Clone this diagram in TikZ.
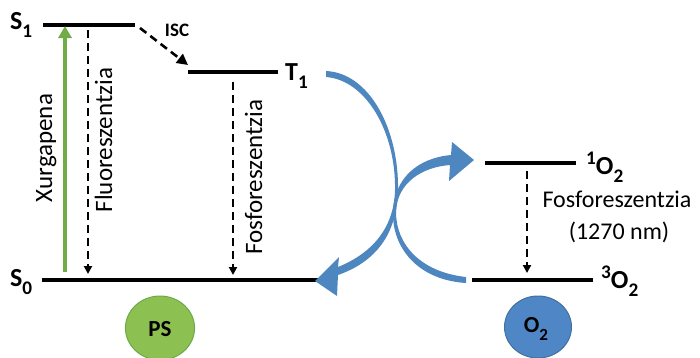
\documentclass[tikz,border=0pt]{standalone}
\usepackage{fontspec}
\usepackage{graphicx}
\setmainfont{Carlito}
\usetikzlibrary{arrows.meta}
\definecolor{arrblue}{HTML}{4E86C0}
\definecolor{oxfill}{HTML}{4F86C6}
\definecolor{oxdraw}{HTML}{41719C}
\definecolor{psfill}{HTML}{8CC152}
\definecolor{psdraw}{HTML}{6FA84A}
\definecolor{excgreen}{HTML}{70AD47}
\newcommand\lowsub[1]{\raisebox{-0.32em}{\scalebox{0.74}{#1}}}
\newcommand\highsup[1]{\raisebox{0.38em}{\scalebox{0.74}{#1}}}
\tikzset{
  level/.style={line width=4pt},
  lvllab/.style={font=\fontsize{26}{28}\selectfont\bfseries, inner sep=0pt, anchor=base west},
  dashedarrow/.style={line width=2.4pt, dash pattern=on 8pt off 5pt, -{Triangle[width=8pt,length=8pt]}},
  rotlab/.style={font=\fontsize{25}{28}\selectfont, rotate=90, inner sep=0pt, anchor=base},
  sidelab/.style={font=\fontsize{24}{26}\selectfont, inner sep=0pt, anchor=base},
  circlelab/.style={font=\fontsize{23}{25}\selectfont\bfseries, inner sep=0pt},
}
\begin{document}
\begin{tikzpicture}[x=1pt,y=-1pt]
\useasboundingbox (0,0) rectangle (700,357);
% level coordinates
\coordinate (S1a) at (43,25);  \coordinate (S1b) at (135,25);
\coordinate (T1a) at (188,72); \coordinate (T1b) at (278,72);
\coordinate (S0a) at (42,280); \coordinate (S0b) at (322,280);
\coordinate (O1a) at (485,163); \coordinate (O1b) at (576,163);
\coordinate (O3a) at (472,280); \coordinate (O3b) at (593,280);
% level lines
\draw[level] (S1a) -- (S1b);
\draw[level] (T1a) -- (T1b);
\draw[level] (S0a) -- (S0b);
\draw[level] (O1a) -- (O1b);
\draw[level] (O3a) -- (O3b);
% level labels
\node[lvllab] (S1lab) at (10,29) {S\lowsub{1}};
\node[lvllab] (T1lab) at (285,80) {T\lowsub{1}};
\node[lvllab] (S0lab) at (10,286) {S\lowsub{0}};
\node[lvllab] (O1lab) at (586,174) {\highsup{1}O\lowsub{2}};
\node[lvllab] (O3lab) at (601,288) {\highsup{3}O\lowsub{2}};
% excitation
\coordinate (exA) at (65,272); \coordinate (exB) at (65,26);
\draw[excgreen, line width=3.5pt, -{Triangle[width=13pt,length=12pt]}] (exA) -- (exB);
\node[rotlab] (xur) at (52,148) {Xurgapena};
% fluorescence
\coordinate (flA) at (88,30); \coordinate (flB) at (88,274);
\draw[dashedarrow] (flA) -- (flB);
\node[rotlab] (flu) at (112,140) {Fluoreszentzia};
% ISC
\coordinate (iscA) at (140,28); \coordinate (iscB) at (188,65);
\draw[line width=2.6pt, dash pattern=on 8pt off 5pt, -{Triangle[width=11pt,length=11pt]}] (iscA) -- (iscB);
\node[font=\fontsize{19}{21}\selectfont\bfseries, inner sep=0pt] (isc) at (177,30) {ISC};
% phosphorescence PS
\coordinate (phA) at (233,82); \coordinate (phB) at (233,275);
\draw[dashedarrow] (phA) -- (phB);
\node[rotlab] (fos) at (262,177) {Fosforeszentzia};
% phosphorescence O2
\coordinate (poA) at (527,171); \coordinate (poB) at (527,273);
\draw[dashedarrow] (poA) -- (poB);
\node[sidelab] (fos2) at (617,207) {Fosforeszentzia};
\node[sidelab] (nm) at (619,239) {(1270 nm)};
% blue curved arrow T1 -> S0
\fill[arrblue] (326,71) .. controls (370,73) and (399,130) .. (398,190)
  .. controls (397,235) and (375,262) .. (338,275)
  -- (337,296) -- (315,281) -- (339,257) -- (338,267)
  .. controls (370,254) and (394,230) .. (395,190)
  .. controls (396,132) and (366,80) .. (326,77) -- cycle;
% blue curved arrow 3O2 -> 1O2
\fill[arrblue] (466,283) .. controls (418,280) and (392,248) .. (393,212)
  .. controls (394,178) and (418,158) .. (451,155)
  -- (452,142) -- (474,160) -- (449,181) -- (450,165)
  .. controls (423,167) and (397,182) .. (396,212)
  .. controls (396,244) and (420,272) .. (466,277) -- cycle;
% molecules
\node[draw=psdraw, fill=psfill, line width=1pt, circle, minimum size=64pt, inner sep=0pt, xscale=1.08] (PS) at (160,328) {};
\node[circlelab] (PSlab) at (160,329) {PS};
\node[draw=oxdraw, fill=oxfill, line width=1pt, circle, minimum size=62pt, inner sep=0pt, xscale=1.08] (O2) at (538,327) {};
\node[circlelab] (O2lab) at (536,329) {O\lowsub{2}};
\end{tikzpicture}
\end{document}
